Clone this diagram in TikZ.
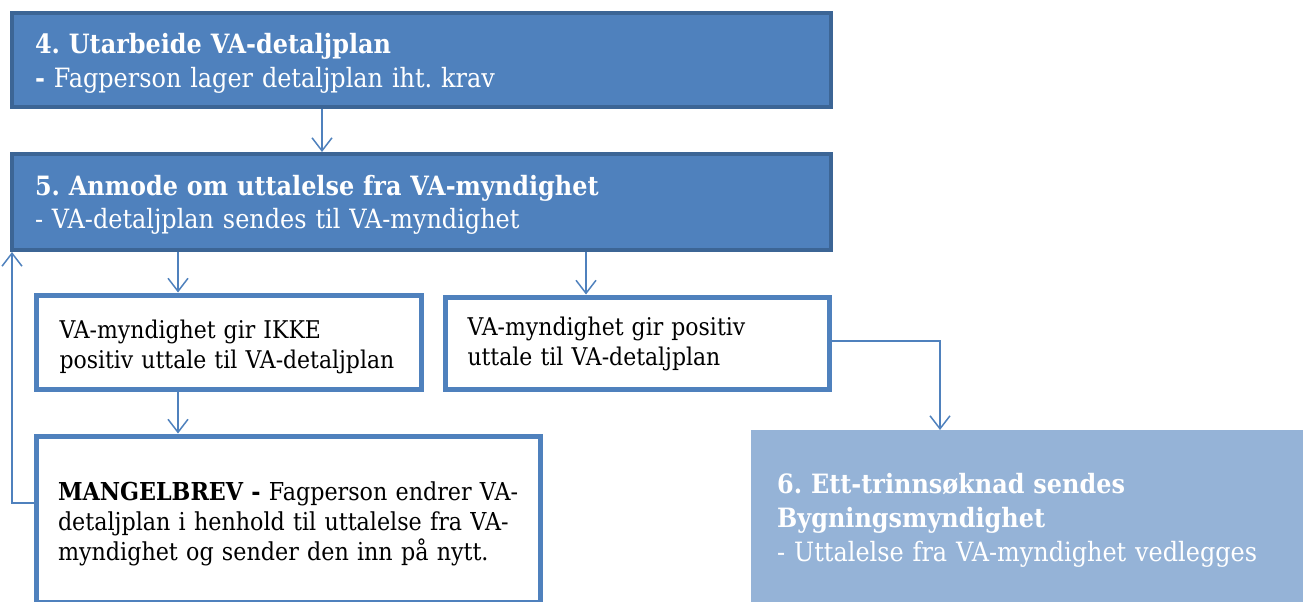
\documentclass[tikz,border=0pt]{standalone}
\usepackage{fontspec}
\setmainfont[FakeStretch=0.9]{DejaVu Serif}
\usetikzlibrary{arrows.meta}
\definecolor{dblue}{HTML}{4F81BD}
\definecolor{dborder}{HTML}{3C6595}
\definecolor{lblue}{HTML}{95B3D7}
\tikzset{
  x=1pt,y=-1pt,
  boxbase/.style={anchor=north west, align=left, inner ysep=0pt},
  darkbox/.style={boxbase, draw=dborder, line width=4pt, fill=dblue, text=white, inner xsep=23pt, font=\frenchspacing\fontsize{26.6}{33}\selectfont},
  whitebox/.style={boxbase, draw=dblue, line width=5pt, fill=white, text=black, font=\frenchspacing\fontsize{24.4}{30}\selectfont},
  lightbox/.style={boxbase, fill=lblue, text=white, inner xsep=26pt, font=\frenchspacing\fontsize{26.6}{34}\selectfont},
  conn/.style={draw=dblue, line width=1.5pt, -{Straight Barb[length=13pt,width=20pt,line width=1.5pt]}}
}
\begin{document}
\begin{tikzpicture}
\useasboundingbox (0,0) rectangle (1309,602);
\node[darkbox, minimum width=819pt, minimum height=94pt, text width=773pt, text height=41pt, text depth=53pt] (b4) at (10,11)
  {\mbox{\textbf{4. Utarbeide VA-detaljplan}}\\\mbox{\textbf{-} Fagperson lager detaljplan iht. krav}};
\node[darkbox, minimum width=819pt, minimum height=96pt, text width=773pt, text height=41pt, text depth=55pt] (b5) at (10,152)
  {\mbox{\textbf{5. Anmode om uttalelse fra VA-myndighet}}\\\mbox{- VA-detaljplan sendes til VA-myndighet}};
\node[whitebox, minimum width=385pt, minimum height=94pt, inner xsep=23.5pt, text width=338pt, text height=43.5pt, text depth=50.5pt] (ba) at (33.5,292.5)
  {\mbox{VA-myndighet gir IKKE}\\\mbox{positiv uttale til VA-detaljplan}};
\node[whitebox, minimum width=384pt, minimum height=92pt, inner xsep=22.5pt, text width=339pt, text height=38.5pt, text depth=53.5pt] (bb) at (442.5,294.5)
  {\mbox{VA-myndighet gir positiv}\\\mbox{uttale til VA-detaljplan}};
\node[whitebox, minimum width=504pt, minimum height=166pt, inner xsep=22pt, text width=460pt, text height=64.5pt, text depth=101.5pt, font=\frenchspacing\fontsize{24.7}{30}\selectfont] (bc) at (33.5,433.5)
  {\mbox{\textbf{MANGELBREV -} Fagperson endrer VA-}\\\mbox{detaljplan i henhold til uttalelse fra VA-}\\\mbox{myndighet og sender den inn på nytt.}};
\node[lightbox, minimum width=552pt, minimum height=175pt, text width=500pt, text height=63pt, text depth=112pt] (bd) at (751,430)
  {\mbox{\textbf{6. Ett-trinnsøknad sendes}}\\\mbox{\textbf{Bygningsmyndighet}}\\\mbox{- Uttalelse fra VA-myndighet vedlegges}};
\coordinate (x322) at (322,0);
\coordinate (x178) at (178,0);
\coordinate (x586) at (586,0);
\coordinate (x12) at (12,0);
\coordinate (x940) at (940,0);
\coordinate (y503) at (0,503);
\coordinate (y341) at (0,341);
\draw[conn] (b4.south -| x322) -- (b5.north -| x322);
\draw[conn] (b5.south -| x178) -- (ba.north -| x178);
\draw[conn] (b5.south -| x586) -- (bb.north -| x586);
\draw[conn] (ba.south -| x178) -- (bc.north -| x178);
\draw[conn] (bc.west |- y503) -| (b5.south -| x12);
\draw[conn] (bb.east |- y341) -| (bd.north -| x940);
\end{tikzpicture}
\end{document}
